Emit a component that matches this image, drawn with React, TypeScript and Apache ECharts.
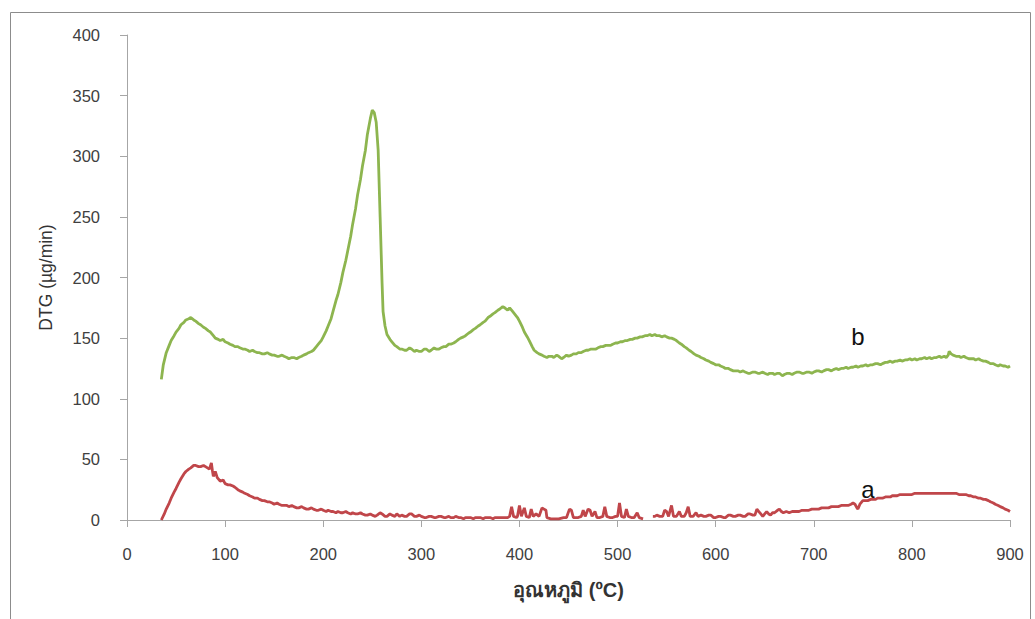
import React, { useEffect, useRef } from "react";
import * as echarts from "echarts";

const xTicks = [0, 100, 200, 300, 400, 500, 600, 700, 800, 900];
const yTicks = [0, 50, 100, 150, 200, 250, 300, 350, 400];

// Series b (green): [temperature °C, DTG µg/min]
const seriesB: [number, number][] = [
  [35, 116], [37, 128], [40, 138], [43, 144], [45, 148], [48, 152], [50, 155], [53, 158], [55, 161], [58, 163],
  [60, 165], [63, 166], [65, 167], [68, 165], [70, 164], [73, 162], [75, 161], [78, 159], [80, 158], [83, 156],
  [85, 155], [88, 152], [90, 150], [93, 149], [95, 148], [98, 149], [100, 147], [103, 146], [105, 145], [108, 144],
  [110, 143], [113, 143], [115, 142], [118, 141], [120, 141], [123, 140], [125, 139], [128, 140], [130, 139], [133, 138],
  [135, 138], [138, 137], [140, 137], [143, 138], [145, 137], [148, 136], [150, 136], [153, 135], [155, 135], [158, 136],
  [160, 135], [163, 134], [165, 133], [168, 134], [170, 134], [173, 133], [175, 134], [178, 135], [180, 136], [183, 137],
  [185, 138], [188, 139], [190, 140], [193, 143], [195, 145], [198, 148], [200, 151], [203, 156], [205, 160], [208, 166],
  [210, 172], [213, 181], [215, 186], [218, 196], [220, 204], [223, 214], [225, 222], [228, 234], [230, 244], [233, 257],
  [235, 268], [238, 281], [240, 292], [243, 305], [245, 318], [248, 331], [250, 338], [252, 336], [254, 328], [256, 305],
  [258, 250], [260, 195], [261, 172], [263, 160], [265, 153], [268, 149], [270, 147], [273, 144], [275, 143], [278, 141],
  [280, 141], [283, 140], [285, 140], [288, 142], [290, 141], [293, 139], [295, 140], [298, 139], [300, 139], [303, 141],
  [305, 141], [308, 139], [310, 140], [313, 142], [315, 141], [318, 141], [320, 142], [323, 143], [325, 143], [328, 145],
  [330, 145], [333, 146], [335, 147], [338, 149], [340, 150], [343, 151], [345, 152], [348, 154], [350, 155], [353, 157],
  [355, 158], [358, 160], [360, 161], [363, 163], [365, 164], [368, 167], [370, 168], [373, 170], [375, 171], [378, 173],
  [380, 174], [383, 176], [385, 175], [388, 173], [390, 175], [393, 172], [395, 170], [398, 167], [400, 164], [403, 159],
  [405, 155], [408, 151], [410, 148], [413, 143], [415, 140], [418, 138], [420, 137], [423, 136], [425, 135], [428, 134],
  [430, 135], [433, 135], [435, 134], [438, 136], [440, 135], [443, 133], [445, 134], [448, 136], [450, 135], [453, 136],
  [455, 137], [458, 137], [460, 138], [463, 138], [465, 139], [468, 140], [470, 140], [473, 141], [475, 141], [478, 141],
  [480, 142], [483, 143], [485, 143], [488, 144], [490, 144], [493, 144], [495, 145], [498, 146], [500, 146], [503, 147],
  [505, 147], [508, 148], [510, 148], [513, 149], [515, 149], [518, 150], [520, 150], [523, 151], [525, 151], [528, 152],
  [530, 152], [533, 153], [535, 152], [538, 153], [540, 152], [543, 152], [545, 151], [548, 152], [550, 151], [553, 150],
  [555, 150], [558, 149], [560, 148], [563, 146], [565, 145], [568, 143], [570, 142], [573, 140], [575, 139], [578, 137],
  [580, 136], [583, 135], [585, 134], [588, 133], [590, 132], [593, 131], [595, 130], [598, 129], [600, 128], [603, 128],
  [605, 127], [608, 126], [610, 125], [613, 125], [615, 124], [618, 123], [620, 123], [623, 123], [625, 122], [628, 123],
  [630, 122], [633, 121], [635, 121], [638, 122], [640, 122], [643, 121], [645, 121], [648, 122], [650, 121], [653, 120],
  [655, 121], [658, 121], [660, 120], [663, 121], [665, 121], [668, 119], [670, 120], [673, 121], [675, 121], [678, 120],
  [680, 121], [683, 122], [685, 122], [688, 121], [690, 121], [693, 122], [695, 122], [698, 121], [700, 122], [703, 123],
  [705, 123], [708, 122], [710, 123], [713, 124], [715, 124], [718, 123], [720, 124], [723, 125], [725, 124], [728, 125],
  [730, 125], [733, 126], [735, 125], [738, 126], [740, 126], [743, 127], [745, 126], [748, 127], [750, 127], [753, 128],
  [755, 127], [758, 128], [760, 128], [763, 129], [765, 129], [768, 128], [770, 129], [773, 130], [775, 130], [778, 131],
  [780, 130], [783, 131], [785, 131], [788, 132], [790, 131], [793, 132], [795, 132], [798, 133], [800, 132], [803, 133],
  [805, 132], [808, 133], [810, 133], [813, 134], [815, 133], [818, 134], [820, 133], [823, 134], [825, 134], [828, 135],
  [830, 134], [833, 135], [835, 134], [837, 136], [838, 139], [840, 137], [842, 136], [845, 135], [848, 135], [850, 134],
  [853, 135], [855, 134], [858, 133], [860, 133], [863, 133], [865, 132], [868, 133], [870, 132], [873, 131], [875, 131],
  [878, 130], [880, 129], [883, 129], [885, 128], [888, 127], [890, 128], [893, 127], [895, 127], [898, 126], [900, 127],
];

// Series a (red): [temperature °C, DTG µg/min]; null marks the break in the record
const seriesA: [number, number | null][] = [
  [35, 0], [38, 5], [40, 9], [43, 14], [45, 18], [48, 23], [50, 26], [53, 31], [55, 34], [58, 38],
  [60, 40], [63, 42], [65, 43], [68, 45], [70, 45], [73, 44], [75, 44], [78, 45], [80, 44], [82, 43],
  [84, 42], [86, 47], [87, 41], [88, 36], [90, 40], [92, 35], [95, 32], [98, 33], [100, 30], [103, 29],
  [105, 29], [108, 28], [110, 27], [113, 25], [115, 24], [118, 23], [120, 22], [123, 21], [125, 20], [128, 19],
  [130, 18], [133, 18], [135, 17], [138, 16], [140, 16], [143, 15], [145, 15], [148, 14], [150, 13], [153, 14],
  [155, 13], [158, 12], [160, 12], [163, 12], [165, 11], [168, 12], [170, 11], [173, 10], [175, 10], [178, 11],
  [180, 10], [183, 9], [185, 9], [188, 10], [190, 9], [193, 8], [195, 8], [198, 9], [200, 8], [203, 7],
  [205, 8], [208, 7], [210, 7], [213, 6], [215, 7], [218, 6], [220, 6], [223, 7], [225, 6], [228, 5],
  [230, 6], [233, 5], [235, 5], [238, 6], [240, 5], [243, 4], [245, 4], [248, 5], [250, 4], [253, 3],
  [255, 4], [258, 6], [260, 5], [263, 3], [265, 3], [268, 5], [270, 4], [273, 3], [275, 5], [278, 3],
  [280, 4], [283, 3], [285, 3], [288, 5], [290, 5], [293, 3], [295, 3], [298, 4], [300, 3], [303, 2],
  [305, 2], [308, 3], [310, 3], [313, 2], [315, 2], [318, 3], [320, 3], [323, 2], [325, 2], [328, 3],
  [330, 2], [333, 2], [335, 3], [338, 2], [340, 2], [343, 1], [345, 2], [348, 2], [350, 2], [353, 1],
  [355, 2], [358, 2], [360, 2], [363, 1], [365, 2], [368, 2], [370, 2], [373, 1], [375, 2], [378, 2],
  [380, 2], [383, 2], [385, 2], [388, 2], [390, 3], [392, 11], [394, 3], [397, 2], [398, 3], [400, 12],
  [402, 3], [405, 10], [407, 3], [410, 2], [412, 9], [414, 3], [417, 5], [420, 3], [423, 10], [425, 9],
  [427, 8], [428, 2], [432, 1], [435, 1], [440, 1], [445, 2], [448, 2], [451, 9], [453, 8], [455, 2],
  [460, 2], [463, 3], [465, 8], [467, 3], [470, 9], [472, 8], [474, 3], [477, 7], [479, 2], [482, 2],
  [485, 3], [487, 11], [489, 3], [492, 2], [495, 2], [498, 3], [500, 3], [502, 14], [504, 3], [507, 2],
  [509, 9], [511, 3], [514, 2], [517, 2], [520, 6], [522, 2], [526, 1], [530, null], [536, 3], [538, 3],
  [540, 4], [543, 3], [546, 3], [548, 8], [550, 7], [552, 3], [555, 12], [557, 3], [560, 3], [563, 7],
  [565, 3], [568, 3], [570, 6], [572, 11], [574, 3], [577, 3], [580, 6], [582, 3], [585, 4], [588, 3],
  [590, 3], [593, 4], [595, 4], [598, 2], [600, 2], [603, 3], [605, 3], [608, 2], [610, 2], [613, 4],
  [615, 4], [618, 3], [620, 3], [623, 4], [625, 4], [628, 3], [630, 3], [633, 5], [635, 5], [638, 4],
  [640, 4], [642, 9], [644, 7], [646, 5], [648, 3], [650, 5], [652, 7], [654, 5], [656, 4], [658, 6],
  [660, 6], [663, 8], [665, 9], [667, 7], [669, 6], [672, 7], [675, 6], [678, 7], [680, 7], [683, 7],
  [685, 7], [688, 8], [690, 8], [693, 8], [695, 8], [698, 9], [700, 9], [703, 9], [705, 9], [708, 10],
  [710, 10], [713, 10], [715, 10], [718, 11], [720, 11], [723, 11], [725, 11], [728, 12], [730, 12], [733, 12],
  [735, 12], [738, 13], [740, 14], [742, 13], [744, 10], [745, 9], [747, 13], [750, 16], [753, 16], [755, 16],
  [758, 17], [760, 17], [763, 17], [765, 18], [768, 18], [770, 18], [773, 19], [775, 19], [778, 19], [780, 20],
  [783, 20], [785, 20], [788, 21], [790, 21], [793, 21], [795, 21], [798, 21], [800, 21], [803, 22], [805, 22],
  [808, 22], [810, 22], [813, 22], [815, 22], [818, 22], [820, 22], [823, 22], [825, 22], [828, 22], [830, 22],
  [833, 22], [835, 22], [838, 22], [840, 22], [843, 22], [845, 22], [848, 21], [850, 21], [853, 21], [855, 21],
  [858, 20], [860, 20], [863, 19], [865, 19], [868, 18], [870, 18], [873, 17], [875, 17], [878, 16], [880, 15],
  [883, 14], [885, 13], [888, 12], [890, 11], [893, 10], [895, 9], [898, 8], [900, 7],
];

const xTitle = "อุณหภูมิ (ºC)";
const yTitle = "DTG (µg/min)";
const labelB = "b";
const labelA = "a";

export default function App() {
  const ref = useRef<HTMLDivElement>(null);
  useEffect(() => {
    if (!ref.current) return;
    const chart = echarts.init(ref.current, null, { renderer: "svg" });
    const font = "'Liberation Sans', Arial, sans-serif";
    chart.setOption({
      animation: false,
      backgroundColor: "#ffffff",
      textStyle: { fontFamily: font },
      grid: { left: 127, right: 25, top: 35, bottom: 99, containLabel: false },
      xAxis: {
        type: "value",
        min: xTicks[0],
        max: xTicks[xTicks.length - 1],
        interval: 100,
        name: xTitle,
        nameLocation: "middle",
        nameGap: 60,
        nameTextStyle: { fontSize: 20, fontWeight: "bold", color: "#333333", fontFamily: font },
        axisLine: { show: true, lineStyle: { color: "#a6a6a6", width: 1 } },
        axisTick: { show: true, length: 7, lineStyle: { color: "#a6a6a6" } },
        axisLabel: { margin: 25, fontSize: 16.5, color: "#404040", fontFamily: font },
        splitLine: { show: false },
      },
      yAxis: {
        type: "value",
        min: yTicks[0],
        max: yTicks[yTicks.length - 1],
        interval: 50,
        name: yTitle,
        nameLocation: "middle",
        nameGap: 72,
        nameRotate: 90,
        nameTextStyle: { fontSize: 17.5, color: "#333333", fontFamily: font },
        axisLine: { show: true, lineStyle: { color: "#a6a6a6", width: 1 } },
        axisTick: { show: true, length: 7, lineStyle: { color: "#a6a6a6" } },
        axisLabel: { margin: 27, fontSize: 16.5, color: "#404040", fontFamily: font },
        splitLine: { show: false },
      },
      series: [
        {
          name: "b",
          type: "line",
          data: seriesB,
          showSymbol: false,
          symbol: "none",
          lineStyle: { color: "#8db54f", width: 2.8 },
          itemStyle: { color: "#8db54f" },
          z: 3,
        },
        {
          name: "a",
          type: "line",
          data: seriesA,
          showSymbol: false,
          symbol: "none",
          connectNulls: false,
          lineStyle: { color: "#c0464a", width: 2.8 },
          itemStyle: { color: "#c0464a" },
          z: 4,
        },
      ],
      graphic: [
        {
          type: "rect",
          shape: { x: 10.5, y: 12.5, width: 1020, height: 620 },
          style: { fill: "none", stroke: "#8c8c8c", lineWidth: 1 },
          silent: true,
        },
        {
          type: "text",
          x: 858,
          y: 336,
          style: { text: labelB, fontSize: 24, fill: "#111111", fontFamily: font, align: "center", verticalAlign: "middle" },
        },
        {
          type: "text",
          x: 868,
          y: 489,
          style: { text: labelA, fontSize: 24, fill: "#111111", fontFamily: font, align: "center", verticalAlign: "middle" },
        },
      ],
    });
    return () => chart.dispose();
  }, []);
  return (
    <div
      ref={ref}
      style={{ position: "fixed", left: 0, top: 0, width: 1035, height: 619 }}
    />
  );
}
